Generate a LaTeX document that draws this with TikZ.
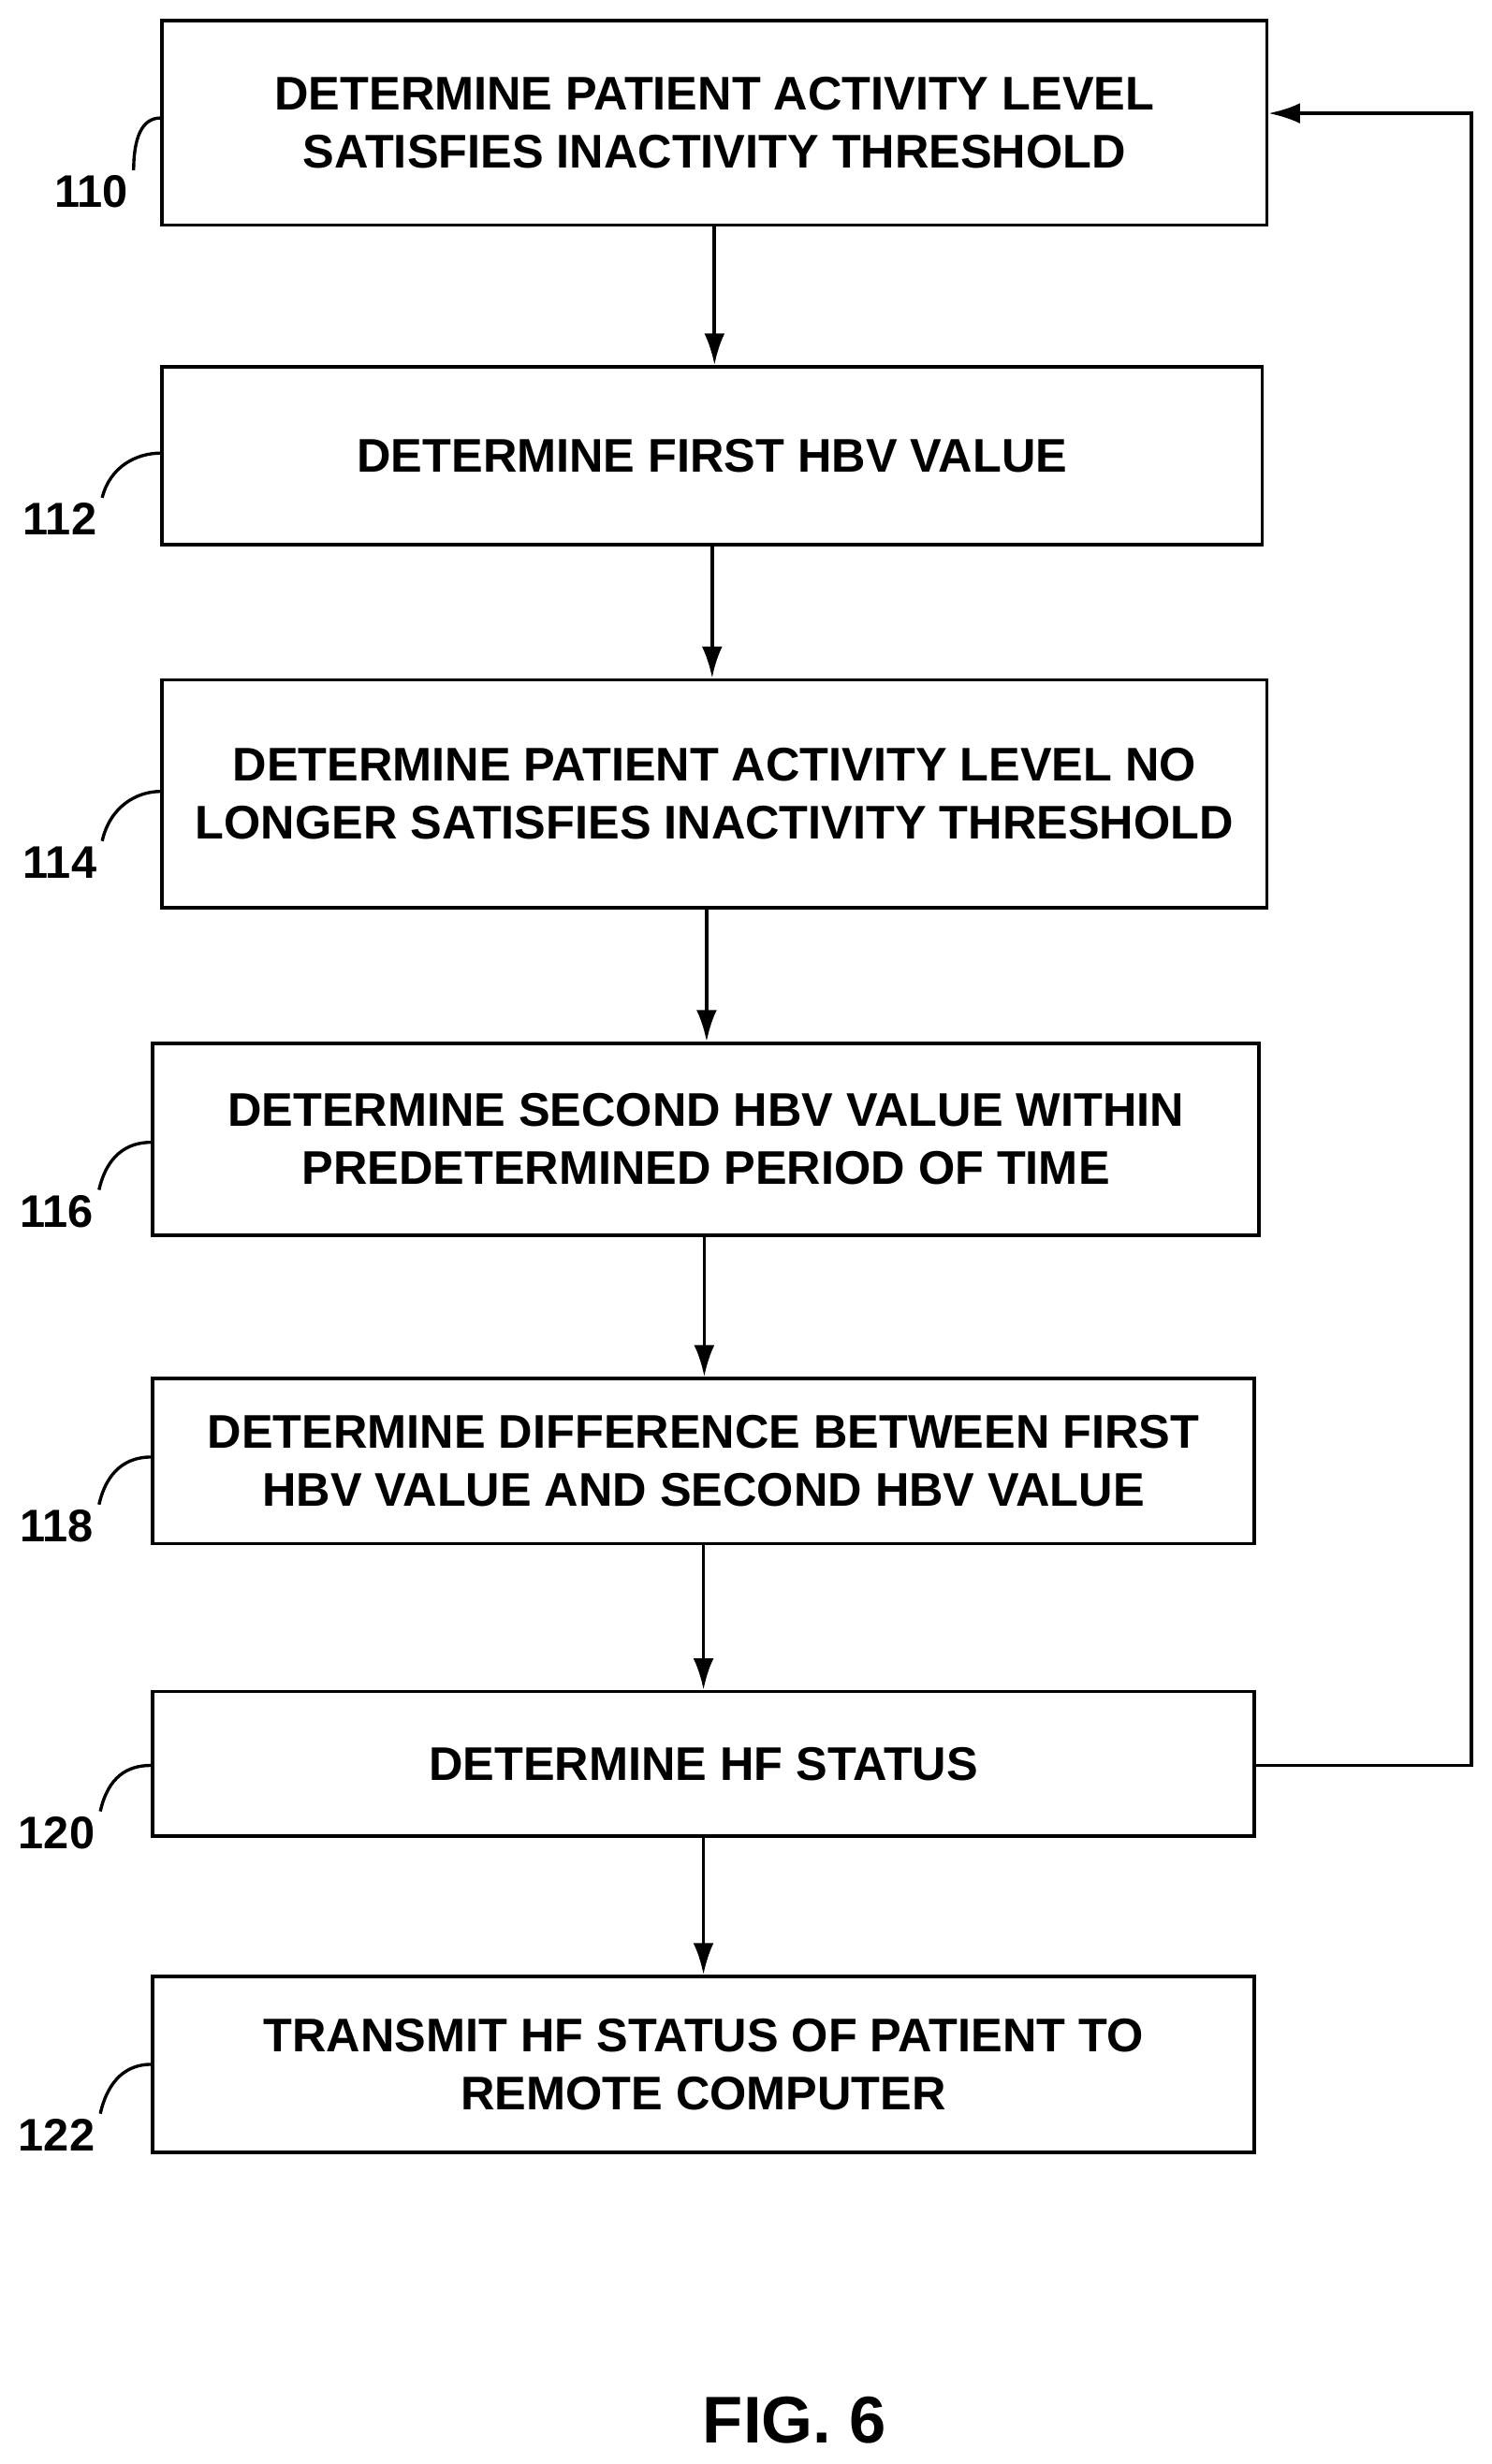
\documentclass[tikz,border=0pt]{standalone}
\usepackage{fontspec}
\setmainfont{Liberation Sans}
\usetikzlibrary{arrows.meta}
\tikzset{
  stepbox/.style={draw,line width=2.2pt,align=center,font=\bfseries\fontsize{30}{37}\selectfont,inner sep=0pt},
  flow/.style={-{Latex[length=20pt,width=13pt]},line width=2.2pt},
  ref/.style={font=\bfseries\fontsize{29}{30}\selectfont},
  lead/.style={line width=2pt}
}
\begin{document}
\begin{tikzpicture}[x=1pt,y=-1pt]
  \useasboundingbox (0,0) rectangle (948,1566);
  \node[stepbox,minimum width=702pt,minimum height=130pt] (s110) at (454,78) {DETERMINE PATIENT ACTIVITY LEVEL\\SATISFIES INACTIVITY THRESHOLD};
  \node[stepbox,minimum width=699pt,minimum height=113pt] (s112) at (452.5,289.5) {DETERMINE FIRST HBV VALUE};
  \node[stepbox,minimum width=702pt,minimum height=145pt] (s114) at (454,504.5) {DETERMINE PATIENT ACTIVITY LEVEL NO\\LONGER SATISFIES INACTIVITY THRESHOLD};
  \node[stepbox,minimum width=703pt,minimum height=122pt] (s116) at (448.5,724) {DETERMINE SECOND HBV VALUE WITHIN\\PREDETERMINED PERIOD OF TIME};
  \node[stepbox,minimum width=700pt,minimum height=105pt] (s118) at (447,928.5) {DETERMINE DIFFERENCE BETWEEN FIRST\\HBV VALUE AND SECOND HBV VALUE};
  \node[stepbox,minimum width=700pt,minimum height=92pt] (s120) at (447,1121) {DETERMINE HF STATUS};
  \node[stepbox,minimum width=700pt,minimum height=112pt] (s122) at (447,1312) {TRANSMIT HF STATUS OF PATIENT TO\\REMOTE COMPUTER};
  % arrows
  \draw[flow] (s110.south) -- (s110.south |- s112.north);
  \draw[flow] (s112.south) -- (s112.south |- s114.north);
  \draw[flow] ([xshift=-5pt]s114.south) -- ([xshift=-5pt]s114.south |- s116.north);
  \draw[flow] ([xshift=-1pt]s116.south) -- ([xshift=-1pt]s116.south |- s118.north);
  \draw[flow] (s118.south) -- (s118.south |- s120.north);
  \draw[flow] (s120.south) -- (s120.south |- s122.north);
  \coordinate (bend1) at (935,1122);
  \coordinate (bend2) at (935,72);
  \draw[flow] (s120.east |- bend1) -- (bend1) -- (bend2) -- (s110.east |- bend2);
  % reference numbers
  \node[ref] (r110) at (58,122) {110};
  \node[ref] (r112) at (38,330) {112};
  \node[ref] (r114) at (38,548) {114};
  \node[ref] (r116) at (36,770) {116};
  \node[ref] (r118) at (36,970) {118};
  \node[ref] (r120) at (36,1165) {120};
  \node[ref] (r122) at (36,1357) {122};
  \draw[lead] (r110.north east) .. controls +(0,-20) and +(-12,0) .. (s110.west |- 0,75);
  \draw[lead] (r112.north east) .. controls +(5,-20) and +(-15,0) .. (s112.west |- 0,288);
  \draw[lead] (r114.north east) .. controls +(5,-22) and +(-15,0) .. (s114.west |- 0,503);
  \draw[lead] (r116.north east) .. controls +(5,-22) and +(-15,0) .. (s116.west |- 0,726);
  \draw[lead] (r118.north east) .. controls +(5,-22) and +(-15,0) .. (s118.west |- 0,926);
  \draw[lead] (r120.north east) .. controls +(5,-22) and +(-15,0) .. (s120.west |- 0,1122);
  \draw[lead] (r122.north east) .. controls +(5,-22) and +(-15,0) .. (s122.west |- 0,1312);
  \node[font=\bfseries\fontsize{42}{44}\selectfont] (fig) at (505,1538) {FIG. 6};
\end{tikzpicture}
\end{document}
